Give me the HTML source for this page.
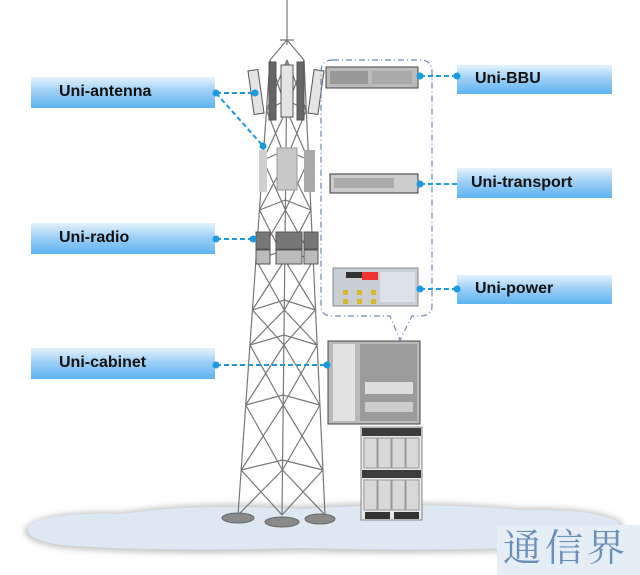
<!DOCTYPE html>
<html><head><meta charset="utf-8"><style>
body{margin:0;background:#fff;width:640px;height:575px;overflow:hidden;position:relative;font-family:"Liberation Sans",sans-serif}
.lb{position:absolute;background:linear-gradient(#e4f2fd,#9fd0f6 45%,#5db3f1);font-weight:bold;font-size:16px;color:#111;box-sizing:border-box}
</style></head><body>
<div class="lb" style="left:31px;top:77px;width:184px;height:31px;padding:6px 0 0 28px">Uni-antenna</div>
<div class="lb" style="left:31px;top:223px;width:184px;height:31px;padding:6px 0 0 28px">Uni-radio</div>
<div class="lb" style="left:31px;top:348px;width:184px;height:31px;padding:6px 0 0 28px">Uni-cabinet</div>
<div class="lb" style="left:457px;top:65px;width:155px;height:29px;padding:5px 0 0 18px">Uni-BBU</div>
<div class="lb" style="left:457px;top:168px;width:155px;height:30px;padding:6px 0 0 14px">Uni-transport</div>
<div class="lb" style="left:457px;top:275px;width:155px;height:29px;padding:5px 0 0 18px">Uni-power</div>
<svg width="640" height="575" style="position:absolute;left:0;top:0">
<defs><filter id="bl"><feGaussianBlur stdDeviation="3"/></filter></defs>
<path d="M25 528 Q40 510 120 512 Q200 500 300 506 Q420 498 520 508 Q600 506 622 522 Q628 540 590 548 Q450 556 300 552 Q150 556 60 548 Q20 542 25 528Z" fill="#c8c8c8" filter="url(#bl)"/>
<path d="M28 526 Q45 512 120 514 Q200 503 300 509 Q420 501 520 510 Q598 509 618 522 Q622 538 588 545 Q450 552 300 548 Q150 552 62 545 Q24 540 28 526Z" fill="#dde8f2"/>
<g stroke="#777" stroke-width="1.2" fill="none">
<path d="M287 0V45M287 40L270 60M287 40L304 60M280 40H294"/>
<path d="M270 60L238 515M287 60L282 515M304 60L325 515"/>
<path d="M270 60L286.5 110M287 60L266.5 110M287 60L306.3 110M304 60L286.5 110
M266.5 110L286 160M286.5 110L263 160M286.5 110L308.6 160M306.3 110L286 160
M263 160L285.4 210M286 160L259.5 210M286 160L310.9 210M308.6 160L285.4 210
M259.5 210L284.8 260M285.4 210L256 260M285.4 210L313.2 260M310.9 210L284.8 260
M256 260L284.3 310M284.8 260L252.4 310M284.8 260L315.5 310M313.2 260L284.3 310
M252.4 310L283.9 345M284.3 310L250 345M284.3 310L317.2 345M315.5 310L283.9 345
M250 345L283.2 405M283.9 345L245.7 405M283.9 345L319.9 405M317.2 345L283.2 405
M245.7 405L282.5 470M283.2 405L241.2 470M283.2 405L322.9 470M319.9 405L282.5 470
M241.2 470L282 515M282.5 470L238 515M282.5 470L325 515M322.9 470L282 515
M266.5 110L286.5 100L306.3 110M263 160L286 150L308.6 160M259.5 210L285.4 200L310.9 210M256 260L284.8 250L313.2 260M252.4 310L284.3 300L315.5 310M250 345L283.9 335L317.2 345M245.7 405L283.2 395L319.9 405M241.2 470L282.5 460L322.9 470"/>
</g>
<g fill="#8a8a8a" stroke="#666"><ellipse cx="238" cy="518" rx="16" ry="5"/><ellipse cx="282" cy="522" rx="17" ry="5"/><ellipse cx="320" cy="519" rx="15" ry="5"/></g>
<g fill="#e4e4e4" stroke="#555" stroke-width="1">
<rect x="251" y="70" width="10" height="44" transform="rotate(-8 256 92)"/>
<rect x="269" y="62" width="7" height="58" fill="#666"/>
<rect x="281" y="65" width="12" height="52"/>
<rect x="297" y="62" width="7" height="58" fill="#666"/>
<rect x="311" y="70" width="10" height="44" transform="rotate(8 316 92)"/>
</g>
<rect x="259" y="150" width="8" height="42" fill="#d0d0d0"/>
<rect x="277" y="148" width="20" height="42" fill="#c8c8c8" stroke="#999"/>
<rect x="304" y="150" width="11" height="42" fill="#a9a9a9"/>
<g stroke="#555"><rect x="256" y="232" width="14" height="17" fill="#777"/><rect x="276" y="232" width="26" height="17" fill="#777"/><rect x="304" y="232" width="14" height="17" fill="#777"/>
<rect x="256" y="250" width="14" height="14" fill="#bbb"/><rect x="276" y="250" width="26" height="14" fill="#bbb"/><rect x="304" y="250" width="14" height="14" fill="#bbb"/></g>
<path d="M333 60H420Q432 60 432 72V306Q432 316 420 316H412L400 340L390 316H333Q321 316 321 306V72Q321 60 333 60Z" fill="none" stroke="#6a86b8" stroke-width="1.2" stroke-dasharray="6 3 1 3"/>
<rect x="326" y="67" width="92" height="21" fill="#bbb" stroke="#444"/><rect x="330" y="71" width="38" height="13" fill="#999"/><rect x="372" y="71" width="40" height="13" fill="#aaa"/>
<rect x="330" y="174" width="88" height="19" fill="#ccc" stroke="#333"/><rect x="334" y="178" width="60" height="10" fill="#aaa"/>
<rect x="333" y="268" width="85" height="38" fill="#c9ced4" stroke="#888"/><rect x="346" y="272" width="28" height="6" fill="#333"/><rect x="362" y="272" width="16" height="8" fill="#e33"/>
<g fill="#d9b82a"><rect x="343" y="290" width="5" height="5"/><rect x="357" y="290" width="5" height="5"/><rect x="371" y="290" width="5" height="5"/><rect x="343" y="299" width="5" height="5"/><rect x="357" y="299" width="5" height="5"/><rect x="371" y="299" width="5" height="5"/></g>
<rect x="380" y="272" width="35" height="30" fill="#dde2e8"/>
<rect x="328" y="341" width="92" height="83" fill="#b9b9b9" stroke="#444"/>
<rect x="333" y="344" width="22" height="77" fill="#e2e2e2"/><rect x="360" y="344" width="57" height="77" fill="#9b9b9b"/>
<rect x="365" y="382" width="48" height="12" fill="#ddd"/><rect x="365" y="402" width="48" height="10" fill="#ccc"/>
<rect x="361" y="427" width="61" height="93" fill="#e8e8e8" stroke="#888"/>
<rect x="362" y="428" width="59" height="8" fill="#3c3c3c"/><rect x="362" y="470" width="59" height="8" fill="#3c3c3c"/>
<g fill="#d8d8d8" stroke="#999"><rect x="364" y="438" width="13" height="30"/><rect x="378" y="438" width="13" height="30"/><rect x="392" y="438" width="13" height="30"/><rect x="406" y="438" width="13" height="30"/>
<rect x="364" y="480" width="13" height="30"/><rect x="378" y="480" width="13" height="30"/><rect x="392" y="480" width="13" height="30"/><rect x="406" y="480" width="13" height="30"/></g>
<rect x="365" y="512" width="25" height="7" fill="#333"/><rect x="394" y="512" width="25" height="7" fill="#333"/>
<g stroke="#1a9be0" stroke-width="2" stroke-dasharray="5 3" fill="none">
<path d="M216 93H255M216 93L263 146M216 239H253M216 365H327M420 76H457M420 184H457M420 289H457"/>
</g>
<g fill="#1a9be0"><circle cx="216" cy="93" r="3.5"/><circle cx="255" cy="93" r="3.5"/><circle cx="263" cy="146" r="3.5"/><circle cx="216" cy="239" r="3.5"/><circle cx="253" cy="239" r="3.5"/><circle cx="216" cy="365" r="3.5"/><circle cx="327" cy="365" r="3.5"/><circle cx="420" cy="76" r="3.5"/><circle cx="457" cy="76" r="3.5"/><circle cx="420" cy="184" r="3.5"/><circle cx="420" cy="289" r="3.5"/><circle cx="457" cy="289" r="3.5"/></g>
</svg>
<div style="position:absolute;left:497px;top:525px;width:143px;height:50px;background:#e6eef5;color:#6b8fb8;font-family:'Liberation Serif','Noto Serif CJK SC',serif;font-size:38px;line-height:48px;letter-spacing:4px;padding-left:6px;box-sizing:border-box">通信界</div>
</body></html>
